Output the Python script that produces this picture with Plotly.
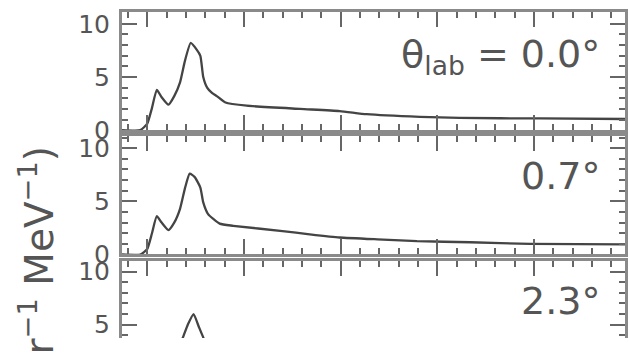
import plotly.graph_objects as go

# excitation energy (arbitrary MeV scale) and cross sections
ex_00 = [-2.6, -0.7, 0.0, 0.5, 1.0, 1.5, 2.2, 2.8, 3.4, 3.9, 4.5, 5.1, 5.5, 5.8, 6.2, 6.7, 7.2, 8.1, 10.3, 15.8, 19.9, 22.7, 28.2, 32.3, 40.6, 49.4]
cs_00 = [0, 0, 0.6, 2.1, 3.8, 3.1, 2.4, 3.2, 4.5, 6.5, 8.2, 7.6, 7.0, 5.0, 4.0, 3.5, 3.2, 2.6, 2.3, 2.0, 1.8, 1.5, 1.25, 1.15, 1.1, 1.05]

ex_07 = [-2.6, -0.7, 0.0, 0.5, 1.0, 1.5, 2.2, 2.8, 3.4, 3.9, 4.4, 4.9, 5.5, 5.8, 6.3, 7.5, 8.9, 14.0, 16.8, 19.9, 24.4, 27.9, 33.4, 39.6, 49.4]
cs_07 = [0, 0, 0.5, 2.0, 3.6, 3.0, 2.3, 3.0, 4.3, 6.2, 7.6, 7.3, 6.3, 4.9, 3.8, 2.9, 2.7, 2.2, 1.9, 1.6, 1.4, 1.25, 1.15, 1.0, 0.95]

ex_23 = [-2.6, -0.7, 0.0, 0.5, 1.0, 1.5, 2.2, 2.8, 3.4, 3.7, 4.2, 4.8, 5.3, 5.8, 6.2, 7.4, 10.6, 15.8, 26.1, 49.4]
cs_23 = [0, 0, 0.4, 1.5, 2.7, 2.3, 1.9, 2.3, 3.2, 3.8, 5.0, 6.0, 4.9, 3.8, 3.0, 2.3, 2.0, 1.7, 1.2, 0.9]

panel_labels = ["θ<sub>lab</sub> = 0.0°", "0.7°", "2.3°"]
y_ticks = [0, 5, 10]
y_title = "d<sup>2</sup>σ/dΩdE (mb sr<sup>−1</sup> MeV<sup>−1</sup>)"

W, H = 629, 353
LINE = "#444444"
AX = "#8a8a8a"
TK = "#666666"
TXT = "#555555"
FONT = "DejaVu Sans, sans-serif"

fig = go.Figure()
series = [(ex_00, cs_00), (ex_07, cs_07), (ex_23, cs_23)]
for i, (xs, ys) in enumerate(series):
    sfx = "" if i == 0 else str(i + 1)
    fig.add_trace(go.Scatter(x=xs, y=ys, mode="lines", xaxis="x" + sfx, yaxis="y" + sfx,
                             line=dict(color=LINE, width=2.3, shape="spline", smoothing=0.5),
                             showlegend=False, hoverinfo="skip"))

xdom = [122 / W, 625 / W]
# (top px, bottom px, y at bottom, y at top)
panels = [(10, 134, 0.0, 11.07), (140, 265, 0.0, 11.16), (272, 353, 3.75, 10.98)]

layout = dict(width=W, height=H, margin=dict(l=0, r=0, t=0, b=0),
              paper_bgcolor="white", plot_bgcolor="white",
              font=dict(family=FONT, color=TXT))

for i, (top, bot, y0, y1) in enumerate(panels):
    sfx = "" if i == 0 else str(i + 1)
    xa = dict(domain=xdom, range=[-2.6, 49.4], anchor="y" + sfx, showgrid=False, zeroline=False,
              showline=True, linecolor=AX, linewidth=3, ticks="inside", ticklen=15, tickwidth=2,
              tickcolor=TK, tick0=0, dtick=10, showticklabels=False,
              minor=dict(ticks="inside", ticklen=6, tickwidth=2, tickcolor=TK, dtick=2, showgrid=False))
    if i < 2:
        xa["mirror"] = "allticks"
    else:
        xa["side"] = "top"
    ya = dict(domain=[1 - bot / H, 1 - top / H], range=[y0, y1], anchor="x" + sfx, showgrid=False,
              zeroline=False, showline=True, linecolor=AX, linewidth=3, mirror="allticks",
              ticks="inside", ticklen=15, tickwidth=2, tickcolor=TK, tickvals=y_ticks,
              ticktext=[str(v) for v in y_ticks], tickfont=dict(size=25, color=TXT, family=FONT),
              ticklabelstandoff=4,
              minor=dict(ticks="inside", ticklen=6, tickwidth=2, tickcolor=TK, dtick=1, showgrid=False))
    layout["xaxis" + sfx] = xa
    layout["yaxis" + sfx] = ya

annotations = []
label_offsets = [46, 42, 42]
for i, (top, bot, y0, y1) in enumerate(panels):
    annotations.append(dict(text=panel_labels[i], xref="paper", yref="paper", x=602 / W,
                            y=1 - (top + label_offsets[i]) / H, xanchor="right", yanchor="middle",
                            showarrow=False, font=dict(size=38, color=TXT, family=FONT)))
annotations.append(dict(text=y_title, xref="paper", yref="paper", x=64 / W, y=1 - 148 / H,
                        xanchor="right", yanchor="top", textangle=-90, showarrow=False,
                        font=dict(size=39, color=TXT, family=FONT)))
layout["annotations"] = annotations

fig.update_layout(**layout)
fig.write_html("out.html")
